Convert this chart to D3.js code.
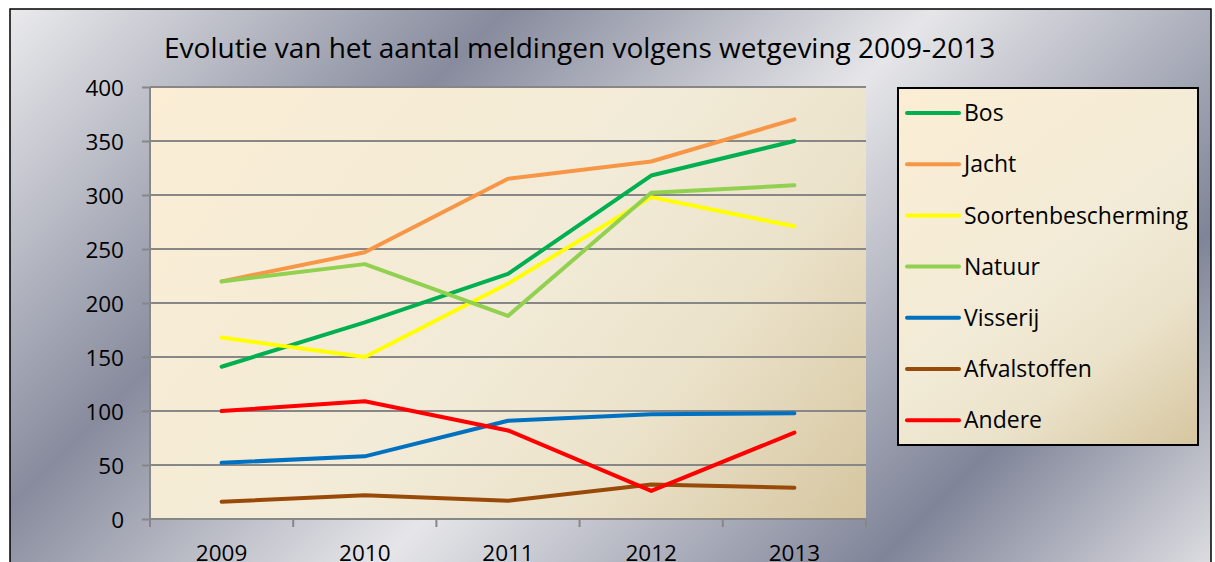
<!DOCTYPE html>
<html>
<head>
<meta charset="utf-8">
<script src="https://cdn.jsdelivr.net/npm/d3@7"></script>
<style>
  html, body { margin: 0; padding: 0; background: #fff; }
  svg { display: block; }
  text { font-family: "Open Sans", "Noto Sans", sans-serif; fill: #000; }
</style>
</head>
<body>
<svg id="chart" width="1215" height="562"></svg>
<script>
const years = ["2009", "2010", "2011", "2012", "2013"];
const seriesNames = ["Bos", "Jacht", "Soortenbescherming", "Natuur", "Visserij", "Afvalstoffen", "Andere"];
const bos = [141, 182, 227, 318, 350];
const jacht = [220, 247, 315, 331, 370];
const soortenbescherming = [168, 150, 218, 298, 271];
const natuur = [220, 236, 188, 302, 309];
const visserij = [52, 58, 91, 97, 98];
const afvalstoffen = [16, 22, 17, 32, 29];
const andere = [100, 109, 82, 26, 80];
const yTicks = [0, 50, 100, 150, 200, 250, 300, 350, 400];
const title = "Evolutie van het aantal meldingen volgens wetgeving 2009-2013";

const seriesValues = [bos, jacht, soortenbescherming, natuur, visserij, afvalstoffen, andere];
const colors = ["#00b050", "#f79646", "#ffff00", "#92d050", "#0070c0", "#9a4a08", "#ff0000"];

const svg = d3.select("#chart");
const defs = svg.append("defs");

// metallic chart background, bands running diagonally
const bg = defs.append("linearGradient")
  .attr("id", "bg").attr("gradientUnits", "userSpaceOnUse")
  .attr("x1", 0).attr("y1", 0).attr("x2", 890).attr("y2", 890);
[[0, "#eeeef0"], [0.29, "#878b9d"], [0.53, "#e6e6e9"], [0.81, "#7f8498"], [1, "#dedee2"]]
  .forEach(([o, c]) => bg.append("stop").attr("offset", o).attr("stop-color", c));

function tanGradient(id, x1, y1, x2, y2) {
  const g = defs.append("linearGradient")
    .attr("id", id).attr("gradientUnits", "userSpaceOnUse")
    .attr("x1", x1).attr("y1", y1).attr("x2", x2).attr("y2", y2);
  [[0, "#fdeed4"], [0.55, "#f2ebd7"], [0.75, "#ebe2ca"], [1, "#d6c6a0"]]
    .forEach(([o, c]) => g.append("stop").attr("offset", o).attr("stop-color", c));
}

const plot = { left: 150, right: 866, top: 87, bottom: 519 };
tanGradient("plotbg", plot.left, plot.top - 150, plot.right, plot.bottom);
tanGradient("legbg", 898, 40, 1198, 445);

svg.append("rect")
  .attr("x", 10).attr("y", 9).attr("width", 1201).attr("height", 580)
  .attr("fill", "url(#bg)").attr("stroke", "#000").attr("stroke-width", 1.5);

svg.append("text")
  .attr("x", 164).attr("y", 58)
  .attr("font-size", 28)
  .text(title);

const x = d3.scaleBand().domain(years).range([plot.left, plot.right]);
const y = d3.scaleLinear().domain([0, 400]).range([plot.bottom, plot.top]);
const cx = d => x(d) + x.bandwidth() / 2;

svg.append("rect")
  .attr("x", plot.left).attr("y", plot.top)
  .attr("width", plot.right - plot.left).attr("height", plot.bottom - plot.top)
  .attr("fill", "url(#plotbg)");

const GRID = "#878787";

svg.append("g").selectAll("line")
  .data(yTicks.filter(v => v > 0))
  .join("line")
  .attr("x1", plot.left).attr("x2", plot.right)
  .attr("y1", d => y(d)).attr("y2", d => y(d))
  .attr("stroke", GRID).attr("stroke-width", 2);

// y axis
const yAxis = svg.append("g")
  .attr("transform", `translate(${plot.left},0)`)
  .call(d3.axisLeft(y).tickValues(yTicks).tickSize(8).tickPadding(18));
yAxis.selectAll("text").attr("font-size", 22.5).attr("font-family", null).attr("dy", "0.36em");
yAxis.selectAll("line, path").attr("stroke", GRID).attr("stroke-width", 2);
yAxis.select(".domain").attr("d", `M0,${plot.top}V${plot.bottom}`);

// x axis: labels at band centres, ticks at band edges
const xAxis = svg.append("g")
  .attr("transform", `translate(0,${plot.bottom})`)
  .call(d3.axisBottom(x).tickSize(0).tickPadding(26));
xAxis.selectAll("text").attr("font-size", 22.5).attr("font-family", null);
xAxis.select(".domain").attr("d", `M${plot.left},0H${plot.right}`)
  .attr("stroke", GRID).attr("stroke-width", 2);
xAxis.selectAll(".edge")
  .data(years.map(d => x(d)).concat([plot.right]))
  .join("line")
  .attr("class", "edge")
  .attr("x1", d => d).attr("x2", d => d)
  .attr("y1", 0).attr("y2", 8)
  .attr("stroke", GRID).attr("stroke-width", 2);

// series lines
const line = d3.line().x((v, i) => cx(years[i])).y(v => y(v));
svg.append("g").selectAll("path")
  .data(seriesValues)
  .join("path")
  .attr("d", line)
  .attr("fill", "none")
  .attr("stroke", (d, i) => colors[i])
  .attr("stroke-width", 4)
  .attr("stroke-linecap", "round")
  .attr("stroke-linejoin", "round");

// legend
const leg = svg.append("g");
leg.append("rect")
  .attr("x", 898).attr("y", 88).attr("width", 300).attr("height", 357)
  .attr("fill", "url(#legbg)").attr("stroke", "#000").attr("stroke-width", 2);
const items = leg.selectAll("g.item")
  .data(seriesNames)
  .join("g")
  .attr("class", "item")
  .attr("transform", (d, i) => `translate(0,${113 + i * 51.2})`);
items.append("line")
  .attr("x1", 907).attr("x2", 959)
  .attr("stroke", (d, i) => colors[i])
  .attr("stroke-width", 4).attr("stroke-linecap", "round");
items.append("text")
  .attr("x", 964).attr("dy", "0.36em")
  .attr("font-size", 23)
  .text(d => d);
</script>
</body>
</html>
